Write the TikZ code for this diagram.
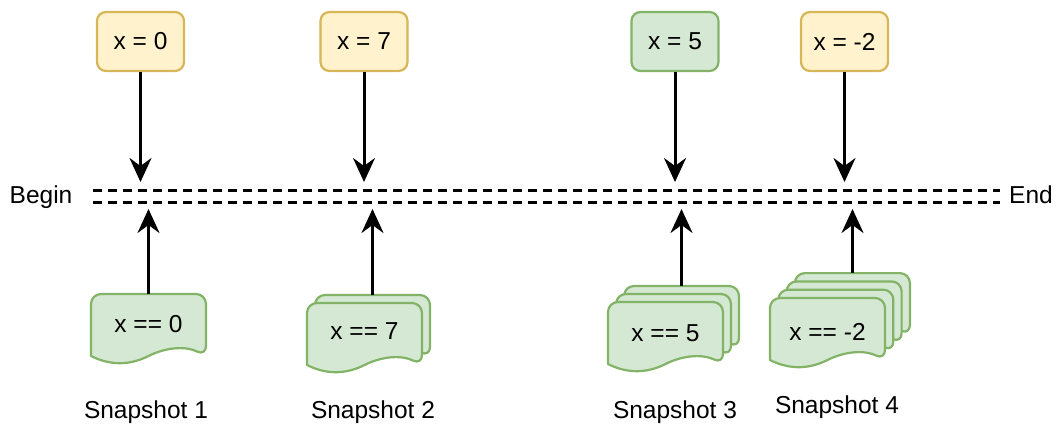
\documentclass[tikz,border=0pt]{standalone}
\usepackage{fontspec}
\setmainfont{Liberation Sans}
\usetikzlibrary{arrows.meta}
\definecolor{yfill}{HTML}{FFF2CC}
\definecolor{ydraw}{HTML}{D6B656}
\definecolor{gfill}{HTML}{D5E8D4}
\definecolor{gdraw}{HTML}{82B366}
\tikzset{
 valbox/.style={draw, line width=2.2pt, rounded corners=9pt, minimum width=87pt, minimum height=59pt, font=\fontsize{24.5}{28}\selectfont, inner sep=0pt},
 ybox/.style={valbox, fill=yfill, draw=ydraw},
 gbox/.style={valbox, fill=gfill, draw=gdraw},
 docpage/.style={fill=gfill, draw=gdraw, line width=2.2pt, line join=round},
 arr/.style={line width=3pt, -{Stealth[length=24pt,width=22pt,inset=8pt]}},
 track/.style={line width=3pt, dash pattern=on 9pt off 6pt},
 lbl/.style={font=\fontsize{24.5}{28}\selectfont, inner sep=0pt},
}
\newcommand{\docstack}[4]{%
 \foreach \k in {#3}{%
  \begin{scope}[shift={({#1+#4*\k},{#2-#4*\k})}]
   \draw[docpage] (0,62) [rounded corners=10pt] -- (0,0) -- (115,0) -- (115,62) [sharp corners] .. controls (95.8,52.4) and (76.7,52.4) .. (57.5,62) .. controls (38.3,71.6) and (19.2,71.6) .. (0,62) -- cycle;
  \end{scope}}}
\begin{document}
\begin{tikzpicture}[x=1pt,y=-1pt]
\useasboundingbox (0,0) rectangle (1057,423);
% value boxes
\node[ybox] (v1) at (140.5,41.5) {x = 0};
\node[ybox] (v2) at (364,41.5) {x = 7};
\node[gbox] (v3) at (675,41.5) {x = 5};
\node[ybox] (v4) at (844.5,41.5) {x = -2};
% timeline
\node[lbl, anchor=base] (begin) at (41,203) {Begin};
\node[lbl, anchor=base] (end) at (1031,203) {End};
\coordinate (uL) at (93,190);
\coordinate (uR) at (1000,190);
\coordinate (lL) at (93,202);
\coordinate (lR) at (1000,202);
\draw[track] (uL) -- (uR);
\draw[track] (lL) -- (lR);
% arrow ends on the timeline
\coordinate (t1) at (140.5,182);
\coordinate (t2) at (364,182);
\coordinate (t3) at (675,182);
\coordinate (t4) at (844.5,182);
\coordinate (b1) at (148.5,209);
\coordinate (b2) at (372.5,209);
\coordinate (b3) at (681.5,209);
\coordinate (b4) at (852.5,209);
% snapshot documents
\docstack{91}{294}{0}{8}
\docstack{307}{303}{1,0}{8}
\docstack{608}{302}{2,1,0}{8}
\docstack{770}{298}{3,2,1,0}{8.3}
\coordinate (d1) at (148.5,294);
\coordinate (d2) at (372.5,295);
\coordinate (d3) at (681.5,286);
\coordinate (d4) at (852.5,273);
\node[lbl] (s1) at (148.5,324) {x == 0};
\node[lbl] (s2) at (364.5,331) {x == 7};
\node[lbl] (s3) at (665.5,333) {x == 5};
\node[lbl] (s4) at (827.5,332) {x == -2};
% labels
\node[lbl, anchor=base] (n1) at (146,418) {Snapshot 1};
\node[lbl, anchor=base] (n2) at (373,418) {Snapshot 2};
\node[lbl, anchor=base] (n3) at (675,418) {Snapshot 3};
\node[lbl, anchor=base] (n4) at (837,413) {Snapshot 4};
% arrows
\draw[arr] (v1.south) -- (t1);
\draw[arr] (v2.south) -- (t2);
\draw[arr] (v3.south) -- (t3);
\draw[arr] (v4.south) -- (t4);
\draw[arr] (d1) -- (b1);
\draw[arr] (d2) -- (b2);
\draw[arr] (d3) -- (b3);
\draw[arr] (d4) -- (b4);
\end{tikzpicture}
\end{document}
